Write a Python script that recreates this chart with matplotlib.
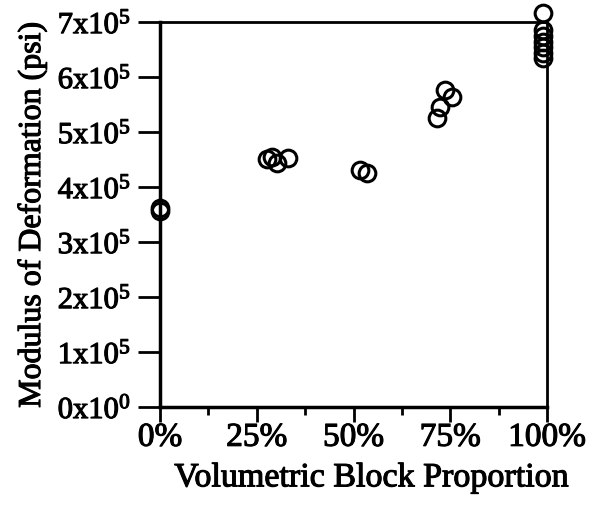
import matplotlib.pyplot as plt
import matplotlib.patheffects as pe
from matplotlib.ticker import MultipleLocator

# Data
block_pct = [0, 0,
             27.6, 29.0, 30.2, 33.0,
             51.7, 53.5,
             71.6, 72.4, 73.6, 75.4,
             99, 99, 99, 99, 99, 99, 99]
modulus_psi = [3.62e5, 3.56e5,
               4.51e5, 4.55e5, 4.44e5, 4.53e5,
               4.31e5, 4.25e5,
               5.25e5, 5.45e5, 5.76e5, 5.64e5,
               7.16e5, 6.85e5, 6.74e5, 6.64e5, 6.54e5, 6.43e5, 6.35e5]

x_ticks = [0, 25, 50, 75, 100]
x_labels = ['0%', '25%', '50%', '75%', '100%']
y_ticks = [0, 1e5, 2e5, 3e5, 4e5, 5e5, 6e5, 7e5]
y_labels = [r'$0x10^0$', r'$1x10^5$', r'$2x10^5$', r'$3x10^5$',
            r'$4x10^5$', r'$5x10^5$', r'$6x10^5$', r'$7x10^5$']

plt.rcParams['font.family'] = 'Liberation Serif'
plt.rcParams['mathtext.default'] = 'regular'

# scanned print look: fatten the glyphs a little
heavy = [pe.withStroke(linewidth=0.8, foreground='black')]

fig = plt.figure(figsize=(5.98, 5.05), dpi=100)
ax = fig.add_axes([0.2676, 0.194, 0.6471, 0.7624])

ax.plot(block_pct, modulus_psi, 'o', mfc='none', mec='black', ms=12, mew=2.2, clip_on=False)

ax.set_xlim(0, 100)
ax.set_ylim(0, 7e5)
ax.set_xticks(x_ticks)
ax.set_xticklabels(x_labels, fontsize=24)
ax.xaxis.set_minor_locator(MultipleLocator(12.5))
ax.set_yticks(y_ticks)
ax.set_yticklabels(y_labels, fontsize=22)

ax.tick_params(axis='x', which='major', direction='out', length=11, width=2, pad=0)
ax.tick_params(axis='x', which='minor', direction='out', length=6, width=2)
ax.tick_params(axis='y', which='major', direction='out', length=16, width=2, pad=5)

for side in ['left', 'bottom']:
    ax.spines[side].set_linewidth(2.5)
for side in ['top', 'right']:
    ax.spines[side].set_linewidth(2)

ax.set_xlabel('Volumetric Block Proportion', fontsize=24.5)
ax.xaxis.set_label_coords(0.545, -0.145)
ax.set_ylabel('Modulus of Deformation (psi)', fontsize=23)
ax.yaxis.set_label_coords(-0.292, 0.5)

for t in ax.get_xticklabels() + ax.get_yticklabels() + [ax.xaxis.label, ax.yaxis.label]:
    t.set_path_effects(heavy)

plt.savefig('out.png', dpi=100)
